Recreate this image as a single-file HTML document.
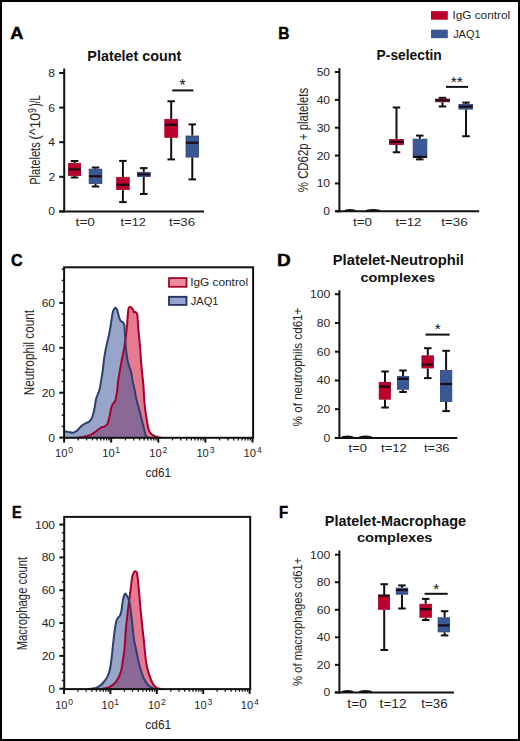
<!DOCTYPE html>
<html><head><meta charset="utf-8"><title>Figure</title>
<style>html,body{margin:0;padding:0;background:#fff;width:520px;height:741px;overflow:hidden}
body{position:relative;font-family:"Liberation Sans",sans-serif}</style></head>
<body>
<svg width="520" height="741" viewBox="0 0 520 741" style="position:absolute;left:0;top:0;display:block">
<g font-family='"Liberation Sans", sans-serif'>
<text transform="translate(10.26 39.08) scale(1.0557 1)" font-size="17.33" font-weight="bold" fill="#000" stroke="#000" stroke-width="0.45">A</text>
<text transform="translate(278.31 39.08) scale(0.8947 1)" font-size="17.33" font-weight="bold" fill="#000" stroke="#000" stroke-width="0.45">B</text>
<text transform="translate(10.88 265.78) scale(0.9597 1)" font-size="16.80" font-weight="bold" fill="#000" stroke="#000" stroke-width="0.45">C</text>
<text transform="translate(277.09 265.58) scale(1.1415 1)" font-size="16.61" font-weight="bold" fill="#000" stroke="#000" stroke-width="0.45">D</text>
<text transform="translate(12.08 517.58) scale(0.8547 1)" font-size="16.90" font-weight="bold" fill="#000" stroke="#000" stroke-width="0.45">E</text>
<text transform="translate(279.04 517.58) scale(0.8888 1)" font-size="16.90" font-weight="bold" fill="#000" stroke="#000" stroke-width="0.45">F</text>
<text transform="translate(87.37 60.5) scale(1.0091 1)" font-size="14.21" font-weight="bold" fill="#111">Platelet count</text>
<line x1="64.2" y1="68.5" x2="64.2" y2="212.4" stroke="#111" stroke-width="2.0"/>
<line x1="59.2" y1="211.4" x2="64.2" y2="211.4" stroke="#111" stroke-width="2.0"/>
<text transform="translate(48.26 215.4) scale(1.0600 1)" font-size="11.43" fill="#262626">0</text>
<line x1="59.2" y1="176.8" x2="64.2" y2="176.8" stroke="#111" stroke-width="2.0"/>
<text transform="translate(48.38 180.8) scale(1.0600 1)" font-size="11.43" fill="#262626">2</text>
<line x1="59.2" y1="142.2" x2="64.2" y2="142.2" stroke="#111" stroke-width="2.0"/>
<text transform="translate(48.14 146.2) scale(1.0600 1)" font-size="11.43" fill="#262626">4</text>
<line x1="59.2" y1="107.6" x2="64.2" y2="107.6" stroke="#111" stroke-width="2.0"/>
<text transform="translate(48.32 111.6) scale(1.0600 1)" font-size="11.43" fill="#262626">6</text>
<line x1="59.2" y1="73" x2="64.2" y2="73" stroke="#111" stroke-width="2.0"/>
<text transform="translate(48.26 77) scale(1.0600 1)" font-size="11.43" fill="#262626">8</text>
<line x1="59.2" y1="211.4" x2="204" y2="211.4" stroke="#111" stroke-width="2.0"/>
<text transform="translate(39.9 184.79) rotate(-90) scale(0.8030 1)" font-size="13.79" fill="#262626">Platelets</text>
<text transform="translate(39.9 139.74) rotate(-90) scale(0.9964 1)" font-size="14.10" fill="#262626">(^10</text>
<text transform="translate(35.5 113.1) rotate(-90) scale(0.7715 1)" font-size="11.43" fill="#262626">9</text>
<text transform="translate(39.9 106.5) rotate(-90) scale(0.7089 1)" font-size="13.79" fill="#262626">)/L</text>
<text transform="translate(75.6 225.8) scale(1.2529 1)" font-size="10.86" fill="#262626">t=0</text>
<text transform="translate(120.61 225.8) scale(1.1863 1)" font-size="10.86" fill="#262626">t=12</text>
<text transform="translate(169 225.8) scale(1.2168 1)" font-size="10.86" fill="#262626">t=36</text>
<line x1="74.55" y1="161" x2="74.55" y2="162.9" stroke="#111" stroke-width="2.0"/>
<line x1="74.55" y1="176" x2="74.55" y2="177.5" stroke="#111" stroke-width="2.0"/>
<line x1="70.8" y1="161" x2="78.3" y2="161" stroke="#111" stroke-width="2.0"/>
<line x1="70.8" y1="177.5" x2="78.3" y2="177.5" stroke="#111" stroke-width="2.0"/>
<rect x="68.5" y="163.3" width="12.1" height="12.3" fill="#bb002c" stroke="#9e0028" stroke-width="0.8"/>
<line x1="68.5" y1="169.4" x2="80.6" y2="169.4" stroke="#1a0a14" stroke-width="2.2"/>
<line x1="95.5" y1="167.5" x2="95.5" y2="168.75" stroke="#111" stroke-width="2.0"/>
<line x1="95.5" y1="184" x2="95.5" y2="186.5" stroke="#111" stroke-width="2.0"/>
<line x1="91.75" y1="167.5" x2="99.25" y2="167.5" stroke="#111" stroke-width="2.0"/>
<line x1="91.75" y1="186.5" x2="99.25" y2="186.5" stroke="#111" stroke-width="2.0"/>
<rect x="89.15" y="169.15" width="12.7" height="14.45" fill="#3a5893" stroke="#2b4473" stroke-width="0.8"/>
<line x1="89.15" y1="176.25" x2="101.85" y2="176.25" stroke="#1a0a14" stroke-width="2.2"/>
<line x1="122.9" y1="160.9" x2="122.9" y2="176.9" stroke="#111" stroke-width="2.0"/>
<line x1="122.9" y1="190" x2="122.9" y2="202.1" stroke="#111" stroke-width="2.0"/>
<line x1="119.15" y1="160.9" x2="126.65" y2="160.9" stroke="#111" stroke-width="2.0"/>
<line x1="119.15" y1="202.1" x2="126.65" y2="202.1" stroke="#111" stroke-width="2.0"/>
<rect x="116.65" y="177.3" width="12.55" height="12.3" fill="#bb002c" stroke="#9e0028" stroke-width="0.8"/>
<line x1="116.65" y1="184.75" x2="129.2" y2="184.75" stroke="#1a0a14" stroke-width="2.2"/>
<line x1="143.75" y1="168.1" x2="143.75" y2="171.9" stroke="#111" stroke-width="2.0"/>
<line x1="143.75" y1="176.9" x2="143.75" y2="194" stroke="#111" stroke-width="2.0"/>
<line x1="140" y1="168.1" x2="147.5" y2="168.1" stroke="#111" stroke-width="2.0"/>
<line x1="140" y1="194" x2="147.5" y2="194" stroke="#111" stroke-width="2.0"/>
<rect x="137.5" y="172.3" width="12.7" height="4.2" fill="#3a5893" stroke="#2b4473" stroke-width="0.8"/>
<line x1="137.5" y1="174.4" x2="150.2" y2="174.4" stroke="#1a0a14" stroke-width="2.2"/>
<line x1="171.2" y1="101.25" x2="171.2" y2="118.9" stroke="#111" stroke-width="2.0"/>
<line x1="171.2" y1="137.75" x2="171.2" y2="159.4" stroke="#111" stroke-width="2.0"/>
<line x1="167.45" y1="101.25" x2="174.95" y2="101.25" stroke="#111" stroke-width="2.0"/>
<line x1="167.45" y1="159.4" x2="174.95" y2="159.4" stroke="#111" stroke-width="2.0"/>
<rect x="164.8" y="119.3" width="12.9" height="18.05" fill="#bb002c" stroke="#9e0028" stroke-width="0.8"/>
<line x1="164.8" y1="124.75" x2="177.7" y2="124.75" stroke="#1a0a14" stroke-width="2.2"/>
<line x1="192.3" y1="124.4" x2="192.3" y2="135.6" stroke="#111" stroke-width="2.0"/>
<line x1="192.3" y1="157.5" x2="192.3" y2="179.4" stroke="#111" stroke-width="2.0"/>
<line x1="188.55" y1="124.4" x2="196.05" y2="124.4" stroke="#111" stroke-width="2.0"/>
<line x1="188.55" y1="179.4" x2="196.05" y2="179.4" stroke="#111" stroke-width="2.0"/>
<rect x="186" y="136" width="12.6" height="21.1" fill="#3a5893" stroke="#2b4473" stroke-width="0.8"/>
<line x1="186" y1="142.75" x2="198.6" y2="142.75" stroke="#1a0a14" stroke-width="2.2"/>
<line x1="172.25" y1="90.4" x2="193.4" y2="90.4" stroke="#111" stroke-width="2.0"/>
<text transform="translate(179.49 91.44) scale(0.9643 1)" font-size="16.00" fill="#111">*</text>
<rect x="431" y="11.1" width="16.8" height="8.6" fill="#bb002c"/>
<rect x="431" y="29.7" width="16.8" height="8.5" fill="#3a5893"/>
<text transform="translate(452.44 19.4) scale(1.0973 1)" font-size="10.76" fill="#262626">IgG control</text>
<text transform="translate(453.14 38.2) scale(0.9476 1)" font-size="11.57" fill="#262626">JAQ1</text>
<text transform="translate(376.6 59.6) scale(0.9623 1)" font-size="14.34" font-weight="bold" fill="#111">P-selectin</text>
<line x1="339.4" y1="68.2" x2="339.4" y2="212.3" stroke="#111" stroke-width="2.0"/>
<line x1="334.9" y1="211.3" x2="339.4" y2="211.3" stroke="#111" stroke-width="2.0"/>
<text transform="translate(323.36 215.3) scale(1.0600 1)" font-size="11.43" fill="#262626">0</text>
<line x1="334.9" y1="183.44" x2="339.4" y2="183.44" stroke="#111" stroke-width="2.0"/>
<text transform="translate(316.64 187.44) scale(1.0600 1)" font-size="11.43" fill="#262626">10</text>
<line x1="334.9" y1="155.58" x2="339.4" y2="155.58" stroke="#111" stroke-width="2.0"/>
<text transform="translate(316.64 159.58) scale(1.0600 1)" font-size="11.43" fill="#262626">20</text>
<line x1="334.9" y1="127.72" x2="339.4" y2="127.72" stroke="#111" stroke-width="2.0"/>
<text transform="translate(316.64 131.72) scale(1.0600 1)" font-size="11.43" fill="#262626">30</text>
<line x1="334.9" y1="99.86" x2="339.4" y2="99.86" stroke="#111" stroke-width="2.0"/>
<text transform="translate(316.64 103.86) scale(1.0600 1)" font-size="11.43" fill="#262626">40</text>
<line x1="334.9" y1="72" x2="339.4" y2="72" stroke="#111" stroke-width="2.0"/>
<text transform="translate(316.64 76) scale(1.0600 1)" font-size="11.43" fill="#262626">50</text>
<line x1="335.5" y1="211.3" x2="479.2" y2="211.3" stroke="#111" stroke-width="2.0"/>
<text transform="translate(308.4 192.2) rotate(-90) scale(0.8285 1)" font-size="13.79" fill="#262626">% CD62p + platelets</text>
<text transform="translate(353 226) scale(1.2326 1)" font-size="10.86" fill="#262626">t=0</text>
<text transform="translate(395.4 226) scale(1.2152 1)" font-size="10.86" fill="#262626">t=12</text>
<text transform="translate(441.2 226) scale(1.2313 1)" font-size="10.86" fill="#262626">t=36</text>
<ellipse cx="350.2" cy="210.3" rx="5.8" ry="1.3" fill="#111"/>
<ellipse cx="373.1" cy="210.3" rx="7.5" ry="1.3" fill="#111"/>
<line x1="396.5" y1="107.5" x2="396.5" y2="139" stroke="#111" stroke-width="2.0"/>
<line x1="396.5" y1="145" x2="396.5" y2="152.25" stroke="#111" stroke-width="2.0"/>
<line x1="392.75" y1="107.5" x2="400.25" y2="107.5" stroke="#111" stroke-width="2.0"/>
<line x1="392.75" y1="152.25" x2="400.25" y2="152.25" stroke="#111" stroke-width="2.0"/>
<rect x="389.4" y="139.4" width="14.2" height="5.2" fill="#bb002c" stroke="#9e0028" stroke-width="0.8"/>
<line x1="389.4" y1="141.9" x2="403.6" y2="141.9" stroke="#1a0a14" stroke-width="2.2"/>
<line x1="419.75" y1="135.6" x2="419.75" y2="138.75" stroke="#111" stroke-width="2.0"/>
<line x1="419.75" y1="157.75" x2="419.75" y2="159.4" stroke="#111" stroke-width="2.0"/>
<line x1="416" y1="135.6" x2="423.5" y2="135.6" stroke="#111" stroke-width="2.0"/>
<line x1="416" y1="159.4" x2="423.5" y2="159.4" stroke="#111" stroke-width="2.0"/>
<rect x="413.15" y="139.15" width="13.7" height="18.2" fill="#3a5893" stroke="#2b4473" stroke-width="0.8"/>
<line x1="413.15" y1="156.9" x2="426.85" y2="156.9" stroke="#1a0a14" stroke-width="2.2"/>
<line x1="442.5" y1="97.8" x2="442.5" y2="98.6" stroke="#111" stroke-width="2.0"/>
<line x1="442.5" y1="102.2" x2="442.5" y2="106.5" stroke="#111" stroke-width="2.0"/>
<line x1="438.75" y1="97.8" x2="446.25" y2="97.8" stroke="#111" stroke-width="2.0"/>
<line x1="438.75" y1="106.5" x2="446.25" y2="106.5" stroke="#111" stroke-width="2.0"/>
<rect x="435.65" y="99" width="13.95" height="2.8" fill="#bb002c" stroke="#9e0028" stroke-width="0.8"/>
<line x1="435.65" y1="100.4" x2="449.6" y2="100.4" stroke="#1a0a14" stroke-width="2.2"/>
<line x1="466" y1="102.6" x2="466" y2="104" stroke="#111" stroke-width="2.0"/>
<line x1="466" y1="109.5" x2="466" y2="136.25" stroke="#111" stroke-width="2.0"/>
<line x1="462.25" y1="102.6" x2="469.75" y2="102.6" stroke="#111" stroke-width="2.0"/>
<line x1="462.25" y1="136.25" x2="469.75" y2="136.25" stroke="#111" stroke-width="2.0"/>
<rect x="458.9" y="104.4" width="13.7" height="4.7" fill="#3a5893" stroke="#2b4473" stroke-width="0.8"/>
<line x1="458.9" y1="106.6" x2="472.6" y2="106.6" stroke="#1a0a14" stroke-width="2.2"/>
<line x1="446" y1="86.9" x2="468" y2="86.9" stroke="#111" stroke-width="2.0"/>
<text transform="translate(450.69 87.25) scale(1.0460 1)" font-size="14.86" fill="#111">**</text>
<path d="M78.00,437.60 C79.18,437.43 82.90,437.10 85.10,436.60 C87.30,436.10 89.53,435.37 91.20,434.60 C92.87,433.83 93.93,432.85 95.10,432.00 C96.27,431.15 97.18,430.25 98.20,429.50 C99.22,428.75 100.20,427.98 101.20,427.50 C102.20,427.02 103.18,427.15 104.20,426.60 C105.22,426.05 106.53,425.37 107.30,424.20 C108.07,423.03 108.35,421.27 108.80,419.60 C109.25,417.93 109.60,416.12 110.00,414.20 C110.40,412.28 110.75,409.77 111.20,408.10 C111.65,406.43 112.07,405.30 112.70,404.20 C113.33,403.10 114.42,402.78 115.00,401.50 C115.58,400.22 115.82,398.48 116.20,396.50 C116.58,394.52 116.98,392.10 117.30,389.60 C117.62,387.10 117.72,384.38 118.10,381.50 C118.48,378.62 119.08,375.37 119.60,372.30 C120.12,369.23 120.68,365.92 121.20,363.10 C121.72,360.28 122.20,357.97 122.70,355.40 C123.20,352.83 123.72,350.52 124.20,347.70 C124.68,344.88 125.13,342.22 125.60,338.50 C126.07,334.78 126.63,329.25 127.00,325.40 C127.37,321.55 127.55,318.22 127.80,315.40 C128.05,312.58 128.12,309.92 128.50,308.50 C128.88,307.08 129.58,307.03 130.10,306.90 C130.62,306.77 131.08,307.18 131.60,307.70 C132.12,308.22 132.82,309.23 133.20,310.00 C133.58,310.77 133.58,311.98 133.90,312.30 C134.22,312.62 134.65,311.77 135.10,311.90 C135.55,312.03 136.22,312.52 136.60,313.10 C136.98,313.68 137.20,314.00 137.40,315.40 C137.60,316.80 137.62,318.93 137.80,321.50 C137.98,324.07 138.25,327.97 138.50,330.80 C138.75,333.63 138.98,335.05 139.30,338.50 C139.62,341.95 140.08,347.40 140.40,351.50 C140.72,355.60 140.88,359.25 141.20,363.10 C141.52,366.95 141.92,370.75 142.30,374.60 C142.68,378.45 143.18,382.05 143.50,386.20 C143.82,390.35 143.88,395.35 144.20,399.50 C144.52,403.65 144.95,407.63 145.40,411.10 C145.85,414.57 146.45,417.62 146.90,420.30 C147.35,422.98 147.65,425.28 148.10,427.20 C148.55,429.12 148.97,430.58 149.60,431.80 C150.23,433.02 151.00,433.78 151.90,434.50 C152.80,435.22 153.97,435.65 155.00,436.10 C156.03,436.55 157.10,436.95 158.10,437.20 C159.10,437.45 160.52,437.53 161.00,437.60 L161.00,437.80 L78.00,437.80 Z" fill="#d52148" fill-opacity="0.6" stroke="none"/>
<path d="M64.50,431.20 C65.12,431.32 66.82,431.65 68.20,431.90 C69.58,432.15 71.53,432.77 72.80,432.70 C74.07,432.63 74.85,432.08 75.80,431.50 C76.75,430.92 77.60,430.08 78.50,429.20 C79.40,428.32 80.10,427.15 81.20,426.20 C82.30,425.25 83.82,424.22 85.10,423.50 C86.38,422.78 87.82,422.73 88.90,421.90 C89.98,421.07 90.88,419.85 91.60,418.50 C92.32,417.15 92.75,415.35 93.20,413.80 C93.65,412.25 93.98,410.73 94.30,409.20 C94.62,407.67 94.78,406.38 95.10,404.60 C95.42,402.82 95.70,400.35 96.20,398.50 C96.70,396.65 97.53,395.05 98.10,393.50 C98.67,391.95 99.03,391.70 99.60,389.20 C100.17,386.70 100.98,381.57 101.50,378.50 C102.02,375.43 102.32,373.75 102.70,370.80 C103.08,367.85 103.42,363.75 103.80,360.80 C104.18,357.85 104.53,355.73 105.00,353.10 C105.47,350.47 106.02,347.70 106.60,345.00 C107.18,342.30 107.92,339.53 108.50,336.90 C109.08,334.27 109.58,332.15 110.10,329.20 C110.62,326.25 111.15,322.02 111.60,319.20 C112.05,316.38 112.35,314.03 112.80,312.30 C113.25,310.57 113.82,309.57 114.30,308.80 C114.78,308.03 115.25,307.57 115.70,307.70 C116.15,307.83 116.58,308.58 117.00,309.60 C117.42,310.62 117.82,312.38 118.20,313.80 C118.58,315.22 118.87,316.93 119.30,318.10 C119.73,319.27 120.22,320.10 120.80,320.80 C121.38,321.50 122.22,321.67 122.80,322.30 C123.38,322.93 123.98,323.18 124.30,324.60 C124.62,326.02 124.55,328.57 124.70,330.80 C124.85,333.03 125.00,335.18 125.20,338.00 C125.40,340.82 125.55,344.17 125.90,347.70 C126.25,351.23 126.68,355.87 127.30,359.20 C127.92,362.53 128.95,365.52 129.60,367.70 C130.25,369.88 130.68,370.00 131.20,372.30 C131.72,374.60 132.20,378.88 132.70,381.50 C133.20,384.12 133.57,385.00 134.20,388.00 C134.83,391.00 135.67,395.92 136.50,399.50 C137.33,403.08 138.37,406.28 139.20,409.50 C140.03,412.72 140.78,415.97 141.50,418.80 C142.22,421.63 142.92,424.20 143.50,426.50 C144.08,428.80 144.55,430.93 145.00,432.60 C145.45,434.27 145.70,435.67 146.20,436.50 C146.70,437.33 147.70,437.42 148.00,437.60 L148.00,437.80 L64.50,437.80 Z" fill="#405b9b" fill-opacity="0.55" stroke="none"/>
<path d="M78.00,437.60 C79.18,437.43 82.90,437.10 85.10,436.60 C87.30,436.10 89.53,435.37 91.20,434.60 C92.87,433.83 93.93,432.85 95.10,432.00 C96.27,431.15 97.18,430.25 98.20,429.50 C99.22,428.75 100.20,427.98 101.20,427.50 C102.20,427.02 103.18,427.15 104.20,426.60 C105.22,426.05 106.53,425.37 107.30,424.20 C108.07,423.03 108.35,421.27 108.80,419.60 C109.25,417.93 109.60,416.12 110.00,414.20 C110.40,412.28 110.75,409.77 111.20,408.10 C111.65,406.43 112.07,405.30 112.70,404.20 C113.33,403.10 114.42,402.78 115.00,401.50 C115.58,400.22 115.82,398.48 116.20,396.50 C116.58,394.52 116.98,392.10 117.30,389.60 C117.62,387.10 117.72,384.38 118.10,381.50 C118.48,378.62 119.08,375.37 119.60,372.30 C120.12,369.23 120.68,365.92 121.20,363.10 C121.72,360.28 122.20,357.97 122.70,355.40 C123.20,352.83 123.72,350.52 124.20,347.70 C124.68,344.88 125.13,342.22 125.60,338.50 C126.07,334.78 126.63,329.25 127.00,325.40 C127.37,321.55 127.55,318.22 127.80,315.40 C128.05,312.58 128.12,309.92 128.50,308.50 C128.88,307.08 129.58,307.03 130.10,306.90 C130.62,306.77 131.08,307.18 131.60,307.70 C132.12,308.22 132.82,309.23 133.20,310.00 C133.58,310.77 133.58,311.98 133.90,312.30 C134.22,312.62 134.65,311.77 135.10,311.90 C135.55,312.03 136.22,312.52 136.60,313.10 C136.98,313.68 137.20,314.00 137.40,315.40 C137.60,316.80 137.62,318.93 137.80,321.50 C137.98,324.07 138.25,327.97 138.50,330.80 C138.75,333.63 138.98,335.05 139.30,338.50 C139.62,341.95 140.08,347.40 140.40,351.50 C140.72,355.60 140.88,359.25 141.20,363.10 C141.52,366.95 141.92,370.75 142.30,374.60 C142.68,378.45 143.18,382.05 143.50,386.20 C143.82,390.35 143.88,395.35 144.20,399.50 C144.52,403.65 144.95,407.63 145.40,411.10 C145.85,414.57 146.45,417.62 146.90,420.30 C147.35,422.98 147.65,425.28 148.10,427.20 C148.55,429.12 148.97,430.58 149.60,431.80 C150.23,433.02 151.00,433.78 151.90,434.50 C152.80,435.22 153.97,435.65 155.00,436.10 C156.03,436.55 157.10,436.95 158.10,437.20 C159.10,437.45 160.52,437.53 161.00,437.60" fill="none" stroke="#a8002e" stroke-width="2.0" stroke-linejoin="round"/>
<path d="M64.50,431.20 C65.12,431.32 66.82,431.65 68.20,431.90 C69.58,432.15 71.53,432.77 72.80,432.70 C74.07,432.63 74.85,432.08 75.80,431.50 C76.75,430.92 77.60,430.08 78.50,429.20 C79.40,428.32 80.10,427.15 81.20,426.20 C82.30,425.25 83.82,424.22 85.10,423.50 C86.38,422.78 87.82,422.73 88.90,421.90 C89.98,421.07 90.88,419.85 91.60,418.50 C92.32,417.15 92.75,415.35 93.20,413.80 C93.65,412.25 93.98,410.73 94.30,409.20 C94.62,407.67 94.78,406.38 95.10,404.60 C95.42,402.82 95.70,400.35 96.20,398.50 C96.70,396.65 97.53,395.05 98.10,393.50 C98.67,391.95 99.03,391.70 99.60,389.20 C100.17,386.70 100.98,381.57 101.50,378.50 C102.02,375.43 102.32,373.75 102.70,370.80 C103.08,367.85 103.42,363.75 103.80,360.80 C104.18,357.85 104.53,355.73 105.00,353.10 C105.47,350.47 106.02,347.70 106.60,345.00 C107.18,342.30 107.92,339.53 108.50,336.90 C109.08,334.27 109.58,332.15 110.10,329.20 C110.62,326.25 111.15,322.02 111.60,319.20 C112.05,316.38 112.35,314.03 112.80,312.30 C113.25,310.57 113.82,309.57 114.30,308.80 C114.78,308.03 115.25,307.57 115.70,307.70 C116.15,307.83 116.58,308.58 117.00,309.60 C117.42,310.62 117.82,312.38 118.20,313.80 C118.58,315.22 118.87,316.93 119.30,318.10 C119.73,319.27 120.22,320.10 120.80,320.80 C121.38,321.50 122.22,321.67 122.80,322.30 C123.38,322.93 123.98,323.18 124.30,324.60 C124.62,326.02 124.55,328.57 124.70,330.80 C124.85,333.03 125.00,335.18 125.20,338.00 C125.40,340.82 125.55,344.17 125.90,347.70 C126.25,351.23 126.68,355.87 127.30,359.20 C127.92,362.53 128.95,365.52 129.60,367.70 C130.25,369.88 130.68,370.00 131.20,372.30 C131.72,374.60 132.20,378.88 132.70,381.50 C133.20,384.12 133.57,385.00 134.20,388.00 C134.83,391.00 135.67,395.92 136.50,399.50 C137.33,403.08 138.37,406.28 139.20,409.50 C140.03,412.72 140.78,415.97 141.50,418.80 C142.22,421.63 142.92,424.20 143.50,426.50 C144.08,428.80 144.55,430.93 145.00,432.60 C145.45,434.27 145.70,435.67 146.20,436.50 C146.70,437.33 147.70,437.42 148.00,437.60" fill="none" stroke="#2d3f6e" stroke-width="2.0" stroke-linejoin="round"/>
<rect x="64.1" y="267.3" width="189" height="170.5" fill="none" stroke="#111" stroke-width="2.0"/>
<line x1="61.7" y1="426.38" x2="64.1" y2="426.38" stroke="#111" stroke-width="1.4"/>
<line x1="61.7" y1="415.15" x2="64.1" y2="415.15" stroke="#111" stroke-width="1.4"/>
<line x1="61.7" y1="403.93" x2="64.1" y2="403.93" stroke="#111" stroke-width="1.4"/>
<line x1="61.7" y1="381.48" x2="64.1" y2="381.48" stroke="#111" stroke-width="1.4"/>
<line x1="61.7" y1="370.25" x2="64.1" y2="370.25" stroke="#111" stroke-width="1.4"/>
<line x1="61.7" y1="359.03" x2="64.1" y2="359.03" stroke="#111" stroke-width="1.4"/>
<line x1="61.7" y1="336.58" x2="64.1" y2="336.58" stroke="#111" stroke-width="1.4"/>
<line x1="61.7" y1="325.35" x2="64.1" y2="325.35" stroke="#111" stroke-width="1.4"/>
<line x1="61.7" y1="314.12" x2="64.1" y2="314.12" stroke="#111" stroke-width="1.4"/>
<line x1="61.7" y1="291.68" x2="64.1" y2="291.68" stroke="#111" stroke-width="1.4"/>
<line x1="61.7" y1="280.45" x2="64.1" y2="280.45" stroke="#111" stroke-width="1.4"/>
<line x1="61.7" y1="269.23" x2="64.1" y2="269.23" stroke="#111" stroke-width="1.4"/>
<line x1="59.3" y1="437.6" x2="64.1" y2="437.6" stroke="#111" stroke-width="2.0"/>
<text transform="translate(48.36 441.6) scale(1.0600 1)" font-size="11.43" fill="#262626">0</text>
<line x1="59.3" y1="392.7" x2="64.1" y2="392.7" stroke="#111" stroke-width="2.0"/>
<text transform="translate(41.64 396.7) scale(1.0600 1)" font-size="11.43" fill="#262626">20</text>
<line x1="59.3" y1="347.8" x2="64.1" y2="347.8" stroke="#111" stroke-width="2.0"/>
<text transform="translate(41.64 351.8) scale(1.0600 1)" font-size="11.43" fill="#262626">40</text>
<line x1="59.3" y1="302.9" x2="64.1" y2="302.9" stroke="#111" stroke-width="2.0"/>
<text transform="translate(41.64 306.9) scale(1.0600 1)" font-size="11.43" fill="#262626">60</text>
<line x1="64.1" y1="437.8" x2="64.1" y2="442.6" stroke="#111" stroke-width="2.0"/>
<line x1="78.28" y1="437.8" x2="78.28" y2="440.4" stroke="#111" stroke-width="1.3"/>
<line x1="86.57" y1="437.8" x2="86.57" y2="440.4" stroke="#111" stroke-width="1.3"/>
<line x1="92.46" y1="437.8" x2="92.46" y2="440.4" stroke="#111" stroke-width="1.3"/>
<line x1="97.02" y1="437.8" x2="97.02" y2="440.4" stroke="#111" stroke-width="1.3"/>
<line x1="100.75" y1="437.8" x2="100.75" y2="440.4" stroke="#111" stroke-width="1.3"/>
<line x1="103.9" y1="437.8" x2="103.9" y2="440.4" stroke="#111" stroke-width="1.3"/>
<line x1="106.64" y1="437.8" x2="106.64" y2="440.4" stroke="#111" stroke-width="1.3"/>
<line x1="109.04" y1="437.8" x2="109.04" y2="440.4" stroke="#111" stroke-width="1.3"/>
<text transform="translate(55.09 457) scale(0.9700 1)" font-size="11.57" fill="#262626">10</text>
<text x="68.36" y="452.6" font-size="8.57" fill="#262626">0</text>
<line x1="111.2" y1="437.8" x2="111.2" y2="442.6" stroke="#111" stroke-width="2.0"/>
<line x1="125.38" y1="437.8" x2="125.38" y2="440.4" stroke="#111" stroke-width="1.3"/>
<line x1="133.67" y1="437.8" x2="133.67" y2="440.4" stroke="#111" stroke-width="1.3"/>
<line x1="139.56" y1="437.8" x2="139.56" y2="440.4" stroke="#111" stroke-width="1.3"/>
<line x1="144.12" y1="437.8" x2="144.12" y2="440.4" stroke="#111" stroke-width="1.3"/>
<line x1="147.85" y1="437.8" x2="147.85" y2="440.4" stroke="#111" stroke-width="1.3"/>
<line x1="151" y1="437.8" x2="151" y2="440.4" stroke="#111" stroke-width="1.3"/>
<line x1="153.74" y1="437.8" x2="153.74" y2="440.4" stroke="#111" stroke-width="1.3"/>
<line x1="156.14" y1="437.8" x2="156.14" y2="440.4" stroke="#111" stroke-width="1.3"/>
<text transform="translate(102.19 457) scale(0.9700 1)" font-size="11.57" fill="#262626">10</text>
<text x="115.16" y="452.6" font-size="8.57" fill="#262626">1</text>
<line x1="158.3" y1="437.8" x2="158.3" y2="442.6" stroke="#111" stroke-width="2.0"/>
<line x1="172.48" y1="437.8" x2="172.48" y2="440.4" stroke="#111" stroke-width="1.3"/>
<line x1="180.77" y1="437.8" x2="180.77" y2="440.4" stroke="#111" stroke-width="1.3"/>
<line x1="186.66" y1="437.8" x2="186.66" y2="440.4" stroke="#111" stroke-width="1.3"/>
<line x1="191.22" y1="437.8" x2="191.22" y2="440.4" stroke="#111" stroke-width="1.3"/>
<line x1="194.95" y1="437.8" x2="194.95" y2="440.4" stroke="#111" stroke-width="1.3"/>
<line x1="198.1" y1="437.8" x2="198.1" y2="440.4" stroke="#111" stroke-width="1.3"/>
<line x1="200.84" y1="437.8" x2="200.84" y2="440.4" stroke="#111" stroke-width="1.3"/>
<line x1="203.24" y1="437.8" x2="203.24" y2="440.4" stroke="#111" stroke-width="1.3"/>
<text transform="translate(149.29 457) scale(0.9700 1)" font-size="11.57" fill="#262626">10</text>
<text x="162.47" y="452.6" font-size="8.57" fill="#262626">2</text>
<line x1="205.4" y1="437.8" x2="205.4" y2="442.6" stroke="#111" stroke-width="2.0"/>
<line x1="219.58" y1="437.8" x2="219.58" y2="440.4" stroke="#111" stroke-width="1.3"/>
<line x1="227.87" y1="437.8" x2="227.87" y2="440.4" stroke="#111" stroke-width="1.3"/>
<line x1="233.76" y1="437.8" x2="233.76" y2="440.4" stroke="#111" stroke-width="1.3"/>
<line x1="238.32" y1="437.8" x2="238.32" y2="440.4" stroke="#111" stroke-width="1.3"/>
<line x1="242.05" y1="437.8" x2="242.05" y2="440.4" stroke="#111" stroke-width="1.3"/>
<line x1="245.2" y1="437.8" x2="245.2" y2="440.4" stroke="#111" stroke-width="1.3"/>
<line x1="247.94" y1="437.8" x2="247.94" y2="440.4" stroke="#111" stroke-width="1.3"/>
<line x1="250.34" y1="437.8" x2="250.34" y2="440.4" stroke="#111" stroke-width="1.3"/>
<text transform="translate(196.39 457) scale(0.9700 1)" font-size="11.57" fill="#262626">10</text>
<text x="209.66" y="452.6" font-size="8.57" fill="#262626">3</text>
<line x1="252.5" y1="437.8" x2="252.5" y2="442.6" stroke="#111" stroke-width="2.0"/>
<text transform="translate(243.49 457) scale(0.9700 1)" font-size="11.57" fill="#262626">10</text>
<text x="256.89" y="452.6" font-size="8.57" fill="#262626">4</text>
<text transform="translate(33.5 395.24) rotate(-90) scale(0.8318 1)" font-size="14.07" fill="#262626">Neutrophil count</text>
<text transform="translate(145.57 477) scale(0.9314 1)" font-size="12.55" fill="#262626">cd61</text>
<rect x="169" y="278.1" width="17.5" height="8.7" fill="#e98c98" stroke="#a3062a" stroke-width="1.8"/>
<rect x="169" y="296.8" width="17.5" height="8.1" fill="#95a3cf" stroke="#25335e" stroke-width="1.8"/>
<text transform="translate(190.13 286.4) scale(1.1473 1)" font-size="10.34" fill="#262626">IgG control</text>
<text transform="translate(190.73 304.9) scale(1.0251 1)" font-size="10.86" fill="#262626">JAQ1</text>
<text transform="translate(332.74 264.7) scale(1.0293 1)" font-size="14.34" font-weight="bold" fill="#111">Platelet-Neutrophil</text>
<text transform="translate(360.42 282) scale(1.1035 1)" font-size="13.10" font-weight="bold" fill="#111">complexes</text>
<line x1="339.4" y1="290.2" x2="339.4" y2="438.9" stroke="#111" stroke-width="2.0"/>
<line x1="334.9" y1="437.9" x2="339.4" y2="437.9" stroke="#111" stroke-width="2.0"/>
<text transform="translate(323.56 441.9) scale(1.0600 1)" font-size="11.43" fill="#262626">0</text>
<line x1="334.9" y1="409.17" x2="339.4" y2="409.17" stroke="#111" stroke-width="2.0"/>
<text transform="translate(316.84 413.17) scale(1.0600 1)" font-size="11.43" fill="#262626">20</text>
<line x1="334.9" y1="380.44" x2="339.4" y2="380.44" stroke="#111" stroke-width="2.0"/>
<text transform="translate(316.84 384.44) scale(1.0600 1)" font-size="11.43" fill="#262626">40</text>
<line x1="334.9" y1="351.71" x2="339.4" y2="351.71" stroke="#111" stroke-width="2.0"/>
<text transform="translate(316.84 355.71) scale(1.0600 1)" font-size="11.43" fill="#262626">60</text>
<line x1="334.9" y1="322.98" x2="339.4" y2="322.98" stroke="#111" stroke-width="2.0"/>
<text transform="translate(316.84 326.98) scale(1.0600 1)" font-size="11.43" fill="#262626">80</text>
<line x1="334.9" y1="294.25" x2="339.4" y2="294.25" stroke="#111" stroke-width="2.0"/>
<text transform="translate(310.11 298.25) scale(1.0600 1)" font-size="11.43" fill="#262626">100</text>
<line x1="334.8" y1="437.9" x2="457.3" y2="437.9" stroke="#111" stroke-width="2.0"/>
<text transform="translate(301.5 426.41) rotate(-90) scale(0.8623 1)" font-size="13.52" fill="#262626">% of neutrophils cd61+</text>
<text transform="translate(348.61 452.2) scale(1.2172 1)" font-size="10.57" fill="#262626">t=0</text>
<text transform="translate(381 452.2) scale(1.2381 1)" font-size="10.57" fill="#262626">t=12</text>
<text transform="translate(424.01 452.2) scale(1.2250 1)" font-size="10.57" fill="#262626">t=36</text>
<ellipse cx="347.5" cy="436.9" rx="6" ry="1.3" fill="#111"/>
<ellipse cx="365.5" cy="436.9" rx="6.5" ry="1.3" fill="#111"/>
<line x1="385" y1="371.5" x2="385" y2="381.9" stroke="#111" stroke-width="2.0"/>
<line x1="385" y1="399.6" x2="385" y2="407.5" stroke="#111" stroke-width="2.0"/>
<line x1="381.25" y1="371.5" x2="388.75" y2="371.5" stroke="#111" stroke-width="2.0"/>
<line x1="381.25" y1="407.5" x2="388.75" y2="407.5" stroke="#111" stroke-width="2.0"/>
<rect x="379.15" y="382.3" width="11.35" height="16.9" fill="#bb002c" stroke="#9e0028" stroke-width="0.8"/>
<line x1="379.15" y1="386.6" x2="390.5" y2="386.6" stroke="#1a0a14" stroke-width="2.2"/>
<line x1="403" y1="370.5" x2="403" y2="375.9" stroke="#111" stroke-width="2.0"/>
<line x1="403" y1="389.6" x2="403" y2="392" stroke="#111" stroke-width="2.0"/>
<line x1="399.25" y1="370.5" x2="406.75" y2="370.5" stroke="#111" stroke-width="2.0"/>
<line x1="399.25" y1="392" x2="406.75" y2="392" stroke="#111" stroke-width="2.0"/>
<rect x="397.4" y="376.3" width="11.3" height="12.9" fill="#3a5893" stroke="#2b4473" stroke-width="0.8"/>
<line x1="397.4" y1="378.8" x2="408.7" y2="378.8" stroke="#1a0a14" stroke-width="2.2"/>
<line x1="427.8" y1="348.2" x2="427.8" y2="355.4" stroke="#111" stroke-width="2.0"/>
<line x1="427.8" y1="368.4" x2="427.8" y2="378.1" stroke="#111" stroke-width="2.0"/>
<line x1="424.05" y1="348.2" x2="431.55" y2="348.2" stroke="#111" stroke-width="2.0"/>
<line x1="424.05" y1="378.1" x2="431.55" y2="378.1" stroke="#111" stroke-width="2.0"/>
<rect x="421.9" y="355.8" width="11.5" height="12.2" fill="#bb002c" stroke="#9e0028" stroke-width="0.8"/>
<line x1="421.9" y1="364.6" x2="433.4" y2="364.6" stroke="#1a0a14" stroke-width="2.2"/>
<line x1="446.1" y1="350.8" x2="446.1" y2="370" stroke="#111" stroke-width="2.0"/>
<line x1="446.1" y1="402" x2="446.1" y2="411.1" stroke="#111" stroke-width="2.0"/>
<line x1="442.35" y1="350.8" x2="449.85" y2="350.8" stroke="#111" stroke-width="2.0"/>
<line x1="442.35" y1="411.1" x2="449.85" y2="411.1" stroke="#111" stroke-width="2.0"/>
<rect x="440.4" y="370.4" width="11.4" height="31.2" fill="#3a5893" stroke="#2b4473" stroke-width="0.8"/>
<line x1="440.4" y1="384" x2="451.8" y2="384" stroke="#1a0a14" stroke-width="2.2"/>
<line x1="425.4" y1="334.6" x2="449.7" y2="334.6" stroke="#111" stroke-width="2.0"/>
<text transform="translate(434.69 334.05) scale(1.0189 1)" font-size="15.14" fill="#111">*</text>
<path d="M100.00,689.00 C100.70,688.92 102.60,688.85 104.20,688.50 C105.80,688.15 107.93,687.68 109.60,686.90 C111.27,686.12 112.78,685.20 114.20,683.80 C115.62,682.40 116.93,680.67 118.10,678.50 C119.27,676.33 120.43,673.63 121.20,670.80 C121.97,667.97 122.20,664.72 122.70,661.50 C123.20,658.28 123.85,654.25 124.20,651.50 C124.55,648.75 124.53,648.60 124.80,645.00 C125.07,641.40 125.35,635.13 125.80,629.90 C126.25,624.67 126.95,618.47 127.50,613.60 C128.05,608.73 128.57,604.83 129.10,600.70 C129.63,596.57 130.22,592.58 130.70,588.80 C131.18,585.02 131.50,580.70 132.00,578.00 C132.50,575.30 133.10,573.72 133.70,572.60 C134.30,571.48 135.05,571.22 135.60,571.30 C136.15,571.38 136.65,571.98 137.00,573.10 C137.35,574.22 137.40,575.38 137.70,578.00 C138.00,580.62 138.43,584.83 138.80,588.80 C139.17,592.77 139.53,597.67 139.90,601.80 C140.27,605.93 140.58,609.28 141.00,613.60 C141.42,617.92 141.93,623.30 142.40,627.70 C142.87,632.10 143.45,636.67 143.80,640.00 C144.15,643.33 144.18,644.50 144.50,647.70 C144.82,650.90 145.25,655.87 145.70,659.20 C146.15,662.53 146.62,665.13 147.20,667.70 C147.78,670.27 148.55,672.55 149.20,674.60 C149.85,676.65 150.40,678.33 151.10,680.00 C151.80,681.67 152.50,683.32 153.40,684.60 C154.30,685.88 155.60,687.05 156.50,687.70 C157.40,688.35 157.88,688.28 158.80,688.50 C159.72,688.72 161.47,688.92 162.00,689.00 L162.00,689.10 L100.00,689.10 Z" fill="#d52148" fill-opacity="0.6" stroke="none"/>
<path d="M88.00,689.00 C88.78,688.93 91.28,688.82 92.70,688.60 C94.12,688.38 95.22,688.23 96.50,687.70 C97.78,687.17 99.12,686.43 100.40,685.40 C101.68,684.37 103.05,682.92 104.20,681.50 C105.35,680.08 106.40,678.68 107.30,676.90 C108.20,675.12 108.95,673.37 109.60,670.80 C110.25,668.23 110.75,664.72 111.20,661.50 C111.65,658.28 111.97,654.58 112.30,651.50 C112.63,648.42 112.83,646.25 113.20,643.00 C113.57,639.75 114.02,635.45 114.50,632.00 C114.98,628.55 115.57,624.63 116.10,622.30 C116.63,619.97 117.07,619.08 117.70,618.00 C118.33,616.92 119.27,617.07 119.90,615.80 C120.53,614.53 121.05,612.73 121.50,610.40 C121.95,608.07 122.18,604.23 122.60,601.80 C123.02,599.37 123.55,597.17 124.00,595.80 C124.45,594.43 124.82,593.60 125.30,593.60 C125.78,593.60 126.37,594.88 126.90,595.80 C127.43,596.72 128.05,597.93 128.50,599.10 C128.95,600.27 129.23,600.92 129.60,602.80 C129.97,604.68 130.30,607.33 130.70,610.40 C131.10,613.47 131.60,617.60 132.00,621.20 C132.40,624.80 132.73,628.70 133.10,632.00 C133.47,635.30 133.63,637.75 134.20,641.00 C134.77,644.25 135.73,647.82 136.50,651.50 C137.27,655.18 137.97,659.63 138.80,663.10 C139.63,666.57 140.60,669.62 141.50,672.30 C142.40,674.98 143.25,677.28 144.20,679.20 C145.15,681.12 146.18,682.52 147.20,683.80 C148.22,685.08 149.27,686.12 150.30,686.90 C151.33,687.68 152.45,688.15 153.40,688.50 C154.35,688.85 155.57,688.92 156.00,689.00 L156.00,689.10 L88.00,689.10 Z" fill="#405b9b" fill-opacity="0.55" stroke="none"/>
<path d="M100.00,689.00 C100.70,688.92 102.60,688.85 104.20,688.50 C105.80,688.15 107.93,687.68 109.60,686.90 C111.27,686.12 112.78,685.20 114.20,683.80 C115.62,682.40 116.93,680.67 118.10,678.50 C119.27,676.33 120.43,673.63 121.20,670.80 C121.97,667.97 122.20,664.72 122.70,661.50 C123.20,658.28 123.85,654.25 124.20,651.50 C124.55,648.75 124.53,648.60 124.80,645.00 C125.07,641.40 125.35,635.13 125.80,629.90 C126.25,624.67 126.95,618.47 127.50,613.60 C128.05,608.73 128.57,604.83 129.10,600.70 C129.63,596.57 130.22,592.58 130.70,588.80 C131.18,585.02 131.50,580.70 132.00,578.00 C132.50,575.30 133.10,573.72 133.70,572.60 C134.30,571.48 135.05,571.22 135.60,571.30 C136.15,571.38 136.65,571.98 137.00,573.10 C137.35,574.22 137.40,575.38 137.70,578.00 C138.00,580.62 138.43,584.83 138.80,588.80 C139.17,592.77 139.53,597.67 139.90,601.80 C140.27,605.93 140.58,609.28 141.00,613.60 C141.42,617.92 141.93,623.30 142.40,627.70 C142.87,632.10 143.45,636.67 143.80,640.00 C144.15,643.33 144.18,644.50 144.50,647.70 C144.82,650.90 145.25,655.87 145.70,659.20 C146.15,662.53 146.62,665.13 147.20,667.70 C147.78,670.27 148.55,672.55 149.20,674.60 C149.85,676.65 150.40,678.33 151.10,680.00 C151.80,681.67 152.50,683.32 153.40,684.60 C154.30,685.88 155.60,687.05 156.50,687.70 C157.40,688.35 157.88,688.28 158.80,688.50 C159.72,688.72 161.47,688.92 162.00,689.00" fill="none" stroke="#a8002e" stroke-width="2.0" stroke-linejoin="round"/>
<path d="M88.00,689.00 C88.78,688.93 91.28,688.82 92.70,688.60 C94.12,688.38 95.22,688.23 96.50,687.70 C97.78,687.17 99.12,686.43 100.40,685.40 C101.68,684.37 103.05,682.92 104.20,681.50 C105.35,680.08 106.40,678.68 107.30,676.90 C108.20,675.12 108.95,673.37 109.60,670.80 C110.25,668.23 110.75,664.72 111.20,661.50 C111.65,658.28 111.97,654.58 112.30,651.50 C112.63,648.42 112.83,646.25 113.20,643.00 C113.57,639.75 114.02,635.45 114.50,632.00 C114.98,628.55 115.57,624.63 116.10,622.30 C116.63,619.97 117.07,619.08 117.70,618.00 C118.33,616.92 119.27,617.07 119.90,615.80 C120.53,614.53 121.05,612.73 121.50,610.40 C121.95,608.07 122.18,604.23 122.60,601.80 C123.02,599.37 123.55,597.17 124.00,595.80 C124.45,594.43 124.82,593.60 125.30,593.60 C125.78,593.60 126.37,594.88 126.90,595.80 C127.43,596.72 128.05,597.93 128.50,599.10 C128.95,600.27 129.23,600.92 129.60,602.80 C129.97,604.68 130.30,607.33 130.70,610.40 C131.10,613.47 131.60,617.60 132.00,621.20 C132.40,624.80 132.73,628.70 133.10,632.00 C133.47,635.30 133.63,637.75 134.20,641.00 C134.77,644.25 135.73,647.82 136.50,651.50 C137.27,655.18 137.97,659.63 138.80,663.10 C139.63,666.57 140.60,669.62 141.50,672.30 C142.40,674.98 143.25,677.28 144.20,679.20 C145.15,681.12 146.18,682.52 147.20,683.80 C148.22,685.08 149.27,686.12 150.30,686.90 C151.33,687.68 152.45,688.15 153.40,688.50 C154.35,688.85 155.57,688.92 156.00,689.00" fill="none" stroke="#2d3f6e" stroke-width="2.0" stroke-linejoin="round"/>
<rect x="64.2" y="516.9" width="186" height="172.2" fill="none" stroke="#111" stroke-width="2.0"/>
<line x1="61.8" y1="680.5" x2="64.2" y2="680.5" stroke="#111" stroke-width="1.4"/>
<line x1="61.8" y1="672.29" x2="64.2" y2="672.29" stroke="#111" stroke-width="1.4"/>
<line x1="61.8" y1="664.09" x2="64.2" y2="664.09" stroke="#111" stroke-width="1.4"/>
<line x1="61.8" y1="647.68" x2="64.2" y2="647.68" stroke="#111" stroke-width="1.4"/>
<line x1="61.8" y1="639.47" x2="64.2" y2="639.47" stroke="#111" stroke-width="1.4"/>
<line x1="61.8" y1="631.27" x2="64.2" y2="631.27" stroke="#111" stroke-width="1.4"/>
<line x1="61.8" y1="614.86" x2="64.2" y2="614.86" stroke="#111" stroke-width="1.4"/>
<line x1="61.8" y1="606.65" x2="64.2" y2="606.65" stroke="#111" stroke-width="1.4"/>
<line x1="61.8" y1="598.45" x2="64.2" y2="598.45" stroke="#111" stroke-width="1.4"/>
<line x1="61.8" y1="582.04" x2="64.2" y2="582.04" stroke="#111" stroke-width="1.4"/>
<line x1="61.8" y1="573.83" x2="64.2" y2="573.83" stroke="#111" stroke-width="1.4"/>
<line x1="61.8" y1="565.62" x2="64.2" y2="565.62" stroke="#111" stroke-width="1.4"/>
<line x1="61.8" y1="549.22" x2="64.2" y2="549.22" stroke="#111" stroke-width="1.4"/>
<line x1="61.8" y1="541.01" x2="64.2" y2="541.01" stroke="#111" stroke-width="1.4"/>
<line x1="61.8" y1="532.81" x2="64.2" y2="532.81" stroke="#111" stroke-width="1.4"/>
<line x1="59.4" y1="688.7" x2="64.2" y2="688.7" stroke="#111" stroke-width="2.0"/>
<text transform="translate(48.36 692.7) scale(1.0600 1)" font-size="11.43" fill="#262626">0</text>
<line x1="59.4" y1="655.88" x2="64.2" y2="655.88" stroke="#111" stroke-width="2.0"/>
<text transform="translate(41.64 659.88) scale(1.0600 1)" font-size="11.43" fill="#262626">20</text>
<line x1="59.4" y1="623.06" x2="64.2" y2="623.06" stroke="#111" stroke-width="2.0"/>
<text transform="translate(41.64 627.06) scale(1.0600 1)" font-size="11.43" fill="#262626">40</text>
<line x1="59.4" y1="590.24" x2="64.2" y2="590.24" stroke="#111" stroke-width="2.0"/>
<text transform="translate(41.64 594.24) scale(1.0600 1)" font-size="11.43" fill="#262626">60</text>
<line x1="59.4" y1="557.42" x2="64.2" y2="557.42" stroke="#111" stroke-width="2.0"/>
<text transform="translate(41.64 561.42) scale(1.0600 1)" font-size="11.43" fill="#262626">80</text>
<line x1="59.4" y1="524.6" x2="64.2" y2="524.6" stroke="#111" stroke-width="2.0"/>
<text transform="translate(34.91 528.6) scale(1.0600 1)" font-size="11.43" fill="#262626">100</text>
<line x1="64" y1="689.1" x2="64" y2="693.9" stroke="#111" stroke-width="2.0"/>
<line x1="77.97" y1="689.1" x2="77.97" y2="691.7" stroke="#111" stroke-width="1.3"/>
<line x1="86.14" y1="689.1" x2="86.14" y2="691.7" stroke="#111" stroke-width="1.3"/>
<line x1="91.94" y1="689.1" x2="91.94" y2="691.7" stroke="#111" stroke-width="1.3"/>
<line x1="96.43" y1="689.1" x2="96.43" y2="691.7" stroke="#111" stroke-width="1.3"/>
<line x1="100.11" y1="689.1" x2="100.11" y2="691.7" stroke="#111" stroke-width="1.3"/>
<line x1="103.21" y1="689.1" x2="103.21" y2="691.7" stroke="#111" stroke-width="1.3"/>
<line x1="105.9" y1="689.1" x2="105.9" y2="691.7" stroke="#111" stroke-width="1.3"/>
<line x1="108.28" y1="689.1" x2="108.28" y2="691.7" stroke="#111" stroke-width="1.3"/>
<text transform="translate(55.14 709.2) scale(0.9700 1)" font-size="11.43" fill="#262626">10</text>
<text x="68.26" y="704.9" font-size="8.57" fill="#262626">0</text>
<line x1="110.4" y1="689.1" x2="110.4" y2="693.9" stroke="#111" stroke-width="2.0"/>
<line x1="124.37" y1="689.1" x2="124.37" y2="691.7" stroke="#111" stroke-width="1.3"/>
<line x1="132.54" y1="689.1" x2="132.54" y2="691.7" stroke="#111" stroke-width="1.3"/>
<line x1="138.34" y1="689.1" x2="138.34" y2="691.7" stroke="#111" stroke-width="1.3"/>
<line x1="142.83" y1="689.1" x2="142.83" y2="691.7" stroke="#111" stroke-width="1.3"/>
<line x1="146.51" y1="689.1" x2="146.51" y2="691.7" stroke="#111" stroke-width="1.3"/>
<line x1="149.61" y1="689.1" x2="149.61" y2="691.7" stroke="#111" stroke-width="1.3"/>
<line x1="152.3" y1="689.1" x2="152.3" y2="691.7" stroke="#111" stroke-width="1.3"/>
<line x1="154.68" y1="689.1" x2="154.68" y2="691.7" stroke="#111" stroke-width="1.3"/>
<text transform="translate(101.54 709.2) scale(0.9700 1)" font-size="11.43" fill="#262626">10</text>
<text x="114.36" y="704.9" font-size="8.57" fill="#262626">1</text>
<line x1="156.8" y1="689.1" x2="156.8" y2="693.9" stroke="#111" stroke-width="2.0"/>
<line x1="170.77" y1="689.1" x2="170.77" y2="691.7" stroke="#111" stroke-width="1.3"/>
<line x1="178.94" y1="689.1" x2="178.94" y2="691.7" stroke="#111" stroke-width="1.3"/>
<line x1="184.74" y1="689.1" x2="184.74" y2="691.7" stroke="#111" stroke-width="1.3"/>
<line x1="189.23" y1="689.1" x2="189.23" y2="691.7" stroke="#111" stroke-width="1.3"/>
<line x1="192.91" y1="689.1" x2="192.91" y2="691.7" stroke="#111" stroke-width="1.3"/>
<line x1="196.01" y1="689.1" x2="196.01" y2="691.7" stroke="#111" stroke-width="1.3"/>
<line x1="198.7" y1="689.1" x2="198.7" y2="691.7" stroke="#111" stroke-width="1.3"/>
<line x1="201.08" y1="689.1" x2="201.08" y2="691.7" stroke="#111" stroke-width="1.3"/>
<text transform="translate(147.94 709.2) scale(0.9700 1)" font-size="11.43" fill="#262626">10</text>
<text x="160.97" y="704.9" font-size="8.57" fill="#262626">2</text>
<line x1="203.2" y1="689.1" x2="203.2" y2="693.9" stroke="#111" stroke-width="2.0"/>
<line x1="217.17" y1="689.1" x2="217.17" y2="691.7" stroke="#111" stroke-width="1.3"/>
<line x1="225.34" y1="689.1" x2="225.34" y2="691.7" stroke="#111" stroke-width="1.3"/>
<line x1="231.14" y1="689.1" x2="231.14" y2="691.7" stroke="#111" stroke-width="1.3"/>
<line x1="235.63" y1="689.1" x2="235.63" y2="691.7" stroke="#111" stroke-width="1.3"/>
<line x1="239.31" y1="689.1" x2="239.31" y2="691.7" stroke="#111" stroke-width="1.3"/>
<line x1="242.41" y1="689.1" x2="242.41" y2="691.7" stroke="#111" stroke-width="1.3"/>
<line x1="245.1" y1="689.1" x2="245.1" y2="691.7" stroke="#111" stroke-width="1.3"/>
<line x1="247.48" y1="689.1" x2="247.48" y2="691.7" stroke="#111" stroke-width="1.3"/>
<text transform="translate(194.34 709.2) scale(0.9700 1)" font-size="11.43" fill="#262626">10</text>
<text x="207.46" y="704.9" font-size="8.57" fill="#262626">3</text>
<line x1="249.6" y1="689.1" x2="249.6" y2="693.9" stroke="#111" stroke-width="2.0"/>
<text transform="translate(240.74 709.2) scale(0.9700 1)" font-size="11.43" fill="#262626">10</text>
<text x="253.99" y="704.9" font-size="8.57" fill="#262626">4</text>
<text transform="translate(26.9 650.3) rotate(-90) scale(0.7877 1)" font-size="14.34" fill="#262626">Macrophage count</text>
<text transform="translate(145.26 729) scale(0.9441 1)" font-size="12.69" fill="#262626">cd61</text>
<text transform="translate(324.86 526) scale(1.0478 1)" font-size="13.79" font-weight="bold" fill="#111">Platelet-Macrophage</text>
<text transform="translate(356.91 541.9) scale(1.1170 1)" font-size="13.10" font-weight="bold" fill="#111">complexes</text>
<line x1="339.4" y1="550.4" x2="339.4" y2="693.4" stroke="#111" stroke-width="2.0"/>
<line x1="334.9" y1="692.4" x2="339.4" y2="692.4" stroke="#111" stroke-width="2.0"/>
<text transform="translate(323.46 696.4) scale(1.0600 1)" font-size="11.43" fill="#262626">0</text>
<line x1="334.9" y1="664.86" x2="339.4" y2="664.86" stroke="#111" stroke-width="2.0"/>
<text transform="translate(316.74 668.86) scale(1.0600 1)" font-size="11.43" fill="#262626">20</text>
<line x1="334.9" y1="637.32" x2="339.4" y2="637.32" stroke="#111" stroke-width="2.0"/>
<text transform="translate(316.74 641.32) scale(1.0600 1)" font-size="11.43" fill="#262626">40</text>
<line x1="334.9" y1="609.78" x2="339.4" y2="609.78" stroke="#111" stroke-width="2.0"/>
<text transform="translate(316.74 613.78) scale(1.0600 1)" font-size="11.43" fill="#262626">60</text>
<line x1="334.9" y1="582.24" x2="339.4" y2="582.24" stroke="#111" stroke-width="2.0"/>
<text transform="translate(316.74 586.24) scale(1.0600 1)" font-size="11.43" fill="#262626">80</text>
<line x1="334.9" y1="554.7" x2="339.4" y2="554.7" stroke="#111" stroke-width="2.0"/>
<text transform="translate(310.01 558.7) scale(1.0600 1)" font-size="11.43" fill="#262626">100</text>
<line x1="334.75" y1="692.4" x2="453.9" y2="692.4" stroke="#111" stroke-width="2.0"/>
<text transform="translate(301.5 686.1) rotate(-90) scale(0.8371 1)" font-size="13.52" fill="#262626">% of macrophages cd61+</text>
<text transform="translate(347.29 707.7) scale(1.0872 1)" font-size="12.71" fill="#262626">t=0</text>
<text transform="translate(379.6 707.7) scale(1.0748 1)" font-size="12.71" fill="#262626">t=12</text>
<text transform="translate(421.3 707.7) scale(1.0514 1)" font-size="12.71" fill="#262626">t=36</text>
<ellipse cx="347.5" cy="691.4" rx="6" ry="1.3" fill="#111"/>
<ellipse cx="365.5" cy="691.4" rx="6.5" ry="1.3" fill="#111"/>
<line x1="384.2" y1="584.2" x2="384.2" y2="594.9" stroke="#111" stroke-width="2.0"/>
<line x1="384.2" y1="609.7" x2="384.2" y2="650" stroke="#111" stroke-width="2.0"/>
<line x1="380.45" y1="584.2" x2="387.95" y2="584.2" stroke="#111" stroke-width="2.0"/>
<line x1="380.45" y1="650" x2="387.95" y2="650" stroke="#111" stroke-width="2.0"/>
<rect x="378.4" y="595.3" width="11.2" height="14" fill="#bb002c" stroke="#9e0028" stroke-width="0.8"/>
<line x1="378.4" y1="595.6" x2="389.6" y2="595.6" stroke="#1a0a14" stroke-width="2.2"/>
<line x1="402" y1="585.4" x2="402" y2="587.7" stroke="#111" stroke-width="2.0"/>
<line x1="402" y1="594.6" x2="402" y2="608.5" stroke="#111" stroke-width="2.0"/>
<line x1="398.25" y1="585.4" x2="405.75" y2="585.4" stroke="#111" stroke-width="2.0"/>
<line x1="398.25" y1="608.5" x2="405.75" y2="608.5" stroke="#111" stroke-width="2.0"/>
<rect x="396.2" y="588.1" width="11.6" height="6.1" fill="#3a5893" stroke="#2b4473" stroke-width="0.8"/>
<line x1="396.2" y1="590" x2="407.8" y2="590" stroke="#1a0a14" stroke-width="2.2"/>
<line x1="425.7" y1="598.9" x2="425.7" y2="603.8" stroke="#111" stroke-width="2.0"/>
<line x1="425.7" y1="617.7" x2="425.7" y2="620" stroke="#111" stroke-width="2.0"/>
<line x1="421.95" y1="598.9" x2="429.45" y2="598.9" stroke="#111" stroke-width="2.0"/>
<line x1="421.95" y1="620" x2="429.45" y2="620" stroke="#111" stroke-width="2.0"/>
<rect x="419.9" y="604.2" width="11.5" height="13.1" fill="#bb002c" stroke="#9e0028" stroke-width="0.8"/>
<line x1="419.9" y1="609.2" x2="431.4" y2="609.2" stroke="#1a0a14" stroke-width="2.2"/>
<line x1="444.6" y1="611.2" x2="444.6" y2="617.4" stroke="#111" stroke-width="2.0"/>
<line x1="444.6" y1="632.3" x2="444.6" y2="635.4" stroke="#111" stroke-width="2.0"/>
<line x1="440.85" y1="611.2" x2="448.35" y2="611.2" stroke="#111" stroke-width="2.0"/>
<line x1="440.85" y1="635.4" x2="448.35" y2="635.4" stroke="#111" stroke-width="2.0"/>
<rect x="438.1" y="617.8" width="11.5" height="14.1" fill="#3a5893" stroke="#2b4473" stroke-width="0.8"/>
<line x1="438.1" y1="625.4" x2="449.6" y2="625.4" stroke="#1a0a14" stroke-width="2.2"/>
<line x1="424.6" y1="593.8" x2="447.7" y2="593.8" stroke="#111" stroke-width="2.0"/>
<text transform="translate(433.19 594.36) scale(1.1020 1)" font-size="14.00" fill="#111">*</text>
</g>
<rect x="1" y="1" width="518" height="739" fill="none" stroke="#000" stroke-width="2"/>
</svg>
</body></html>
